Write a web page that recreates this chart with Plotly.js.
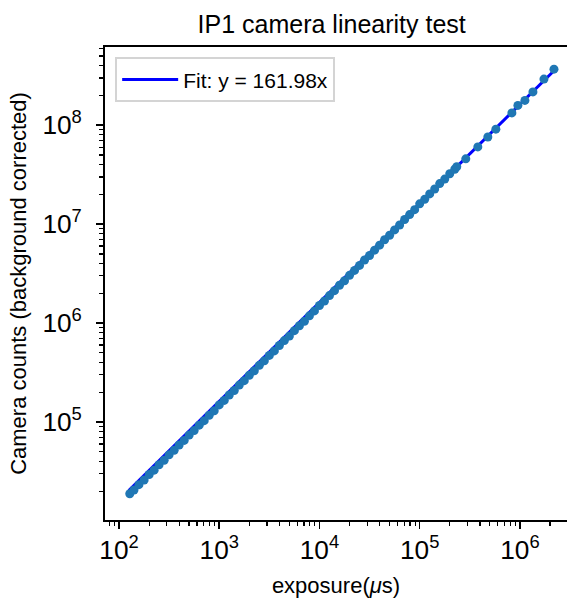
<!DOCTYPE html>
<html>
<head>
<meta charset="utf-8">
<script src="https://cdn.plot.ly/plotly-3.0.1.min.js"></script>
<style>html,body{margin:0;padding:0;background:#fff;}#chart{width:567px;height:600px;}</style>
</head>
<body>
<div id="chart"></div>
<script>
// Exposure times (microseconds)
const exposure = [128, 141, 158, 178, 200, 224, 251, 282, 316, 355, 398, 447, 501, 562, 631, 708, 794, 891,
  1000, 1122, 1259, 1413, 1585, 1778, 1995, 2239, 2512, 2818, 3162, 3548, 3981, 4467, 5012, 5623, 6310, 7079, 7943, 8913,
  10000, 11220, 12589, 14125, 15849, 17783, 19953, 22387, 25119, 28184, 31623, 35481, 39811, 44668, 50119, 56234, 63096, 70795, 79433, 89125,
  100000, 112202, 125893, 141254, 158489, 177828, 199526, 223872, 234423, 288403, 380189, 478630, 575440, 831764, 954993,
  1122018, 1348963, 1737801, 2187762];
// Camera counts (background corrected)
const counts = [18870, 20560, 23290, 25950, 29480, 32660, 37000, 41110, 46580, 51750, 58670, 65160, 73850, 81930, 93010, 103210, 117040, 129890,
  149020, 165380, 187620, 208280, 236200, 262080, 297300, 330030, 374340, 415380, 471210, 522980, 593250, 665680, 738780, 837950, 940330, 1043460, 1183680, 1328230,
  1506410, 1672020, 1896420, 2127810, 2413190, 2678860, 3038070, 3408670, 3824650, 4336980, 4814960, 5459850, 6126160, 6945910, 7712360, 8744430, 9811480, 11123350, 12480560, 14003370,
  16036020, 17810990, 20188230, 22651520, 25672050, 28516530, 32319220, 35900160, 38000000, 45700000, 60300000, 75900000, 91200000, 133000000, 158500000,
  178000000, 217000000, 292000000, 368000000];
// Fit line endpoints: y = 161.98 x
const fitX = [125, 2187762];
const fitY = [20248, 354373700];
const fitLabel = "Fit: y = 161.98x";

const fnt = "Liberation Sans, Arial, Helvetica, sans-serif";

const traces = [
  {x: fitX, y: fitY, mode: 'lines', name: fitLabel, line: {color: '#0000ff', width: 3}, showlegend: true},
  {x: exposure, y: counts, mode: 'markers', name: 'data', showlegend: false,
   marker: {color: '#1f77b4', size: 9, line: {width: 0}}}
];

const axisCommon = {
  type: 'log', showgrid: false, zeroline: false, automargin: false,
  showline: true, linecolor: 'black', linewidth: 2, mirror: true,
  ticks: 'outside', ticklen: 7, tickwidth: 1.6, tickcolor: 'black',
  dtick: 1, exponentformat: 'power',
  tickfont: {family: fnt, size: 21, color: 'black'},
  minor: {ticks: 'outside', ticklen: 4, tickwidth: 1.2, tickcolor: 'black', dtick: 'D1', showgrid: false}
};

const layout = {
  width: 567, height: 600,
  margin: {l: 105, r: 0, t: 47, b: 80},
  paper_bgcolor: 'white', plot_bgcolor: 'white',
  font: {family: fnt, color: 'black'},
  title: {text: 'IP1 camera linearity test', font: {family: fnt, size: 25, color: 'black'}, x: 0.585, xanchor: 'center', y: 0.96, yanchor: 'middle'},
  xaxis: Object.assign({}, axisCommon, {
    range: [1.86, 6.47],
    title: {text: 'exposure(<i>μ</i>s)', font: {family: fnt, size: 22, color: 'black'}, standoff: 13}
  }),
  yaxis: Object.assign({}, axisCommon, {
    range: [4.01, 8.79],
    ticklabelstandoff: 10,
    title: {text: 'Camera counts (background corrected)', font: {family: fnt, size: 22, color: 'black'}, standoff: 10}
  }),
  legend: {x: 0.022, y: 0.978, xanchor: 'left', yanchor: 'top', bgcolor: 'white', bordercolor: '#d4d4d4', borderwidth: 2,
    itemwidth: 56, font: {family: fnt, size: 21, color: 'black'}},
  showlegend: true
};

Plotly.newPlot('chart', traces, layout, {displayModeBar: false, staticPlot: true});
</script>
</body>
</html>
